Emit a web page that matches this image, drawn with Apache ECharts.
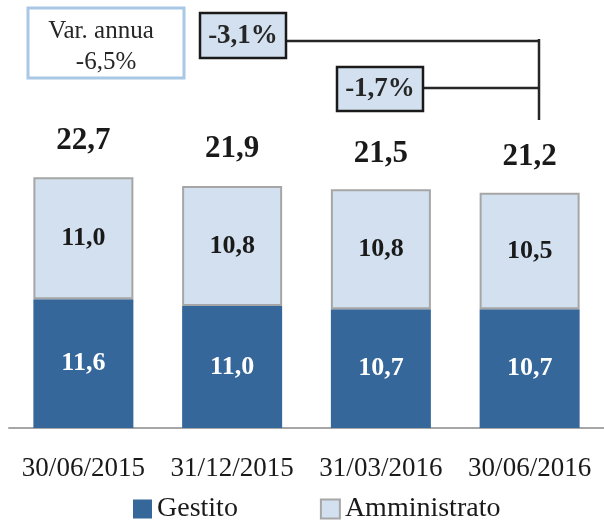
<!DOCTYPE html>
<html><head><meta charset="utf-8">
<script src="https://cdn.jsdelivr.net/npm/echarts@6/dist/echarts.min.js"></script>
<style>html,body{margin:0;padding:0;background:#fff}#c{width:604px;height:522px}</style>
</head><body><div id="c"></div>
<script>
const categories = ['30/06/2015','31/12/2015','31/03/2016','30/06/2016'];
const gestito = [11.6, 11.0, 10.7, 10.7];
const amministrato = [11.0, 10.8, 10.8, 10.5];
const totals = [22.7, 21.9, 21.5, 21.2];
const seriesNames = ['Gestito','Amministrato'];
const varAnnuaText = ['Var. annua','-6,5%'];
const changes = ['-3,1%','-1,7%'];

const FONT = 'Liberation Serif';
const fmtNum = p => Number(p.value).toFixed(1).replace('.', ',');

const chart = echarts.init(document.getElementById('c'));
chart.setOption({
  animation:false,
  backgroundColor:'#fff',
  grid:{left:9,right:0,top:150.5,bottom:94},
  xAxis:{type:'category',data:categories,
    axisLine:{lineStyle:{color:'#A6A6A6',width:2}},
    axisTick:{show:false},
    axisLabel:{interval:0,color:'#1a1a1a',fontFamily:FONT,fontSize:27,margin:27}},
  yAxis:{type:'value',min:0,max:25,show:false,splitLine:{show:false}},
  legend:{data:seriesNames,bottom:-6,left:128,icon:'rect',itemWidth:19,itemHeight:19,itemGap:82,
    textStyle:{fontFamily:FONT,fontSize:28,color:'#1a1a1a'}},
  series:[
    {name:seriesNames[0],type:'bar',stack:'t',data:gestito,barWidth:100,
      itemStyle:{color:'#35679A'},
      label:{show:true,position:'inside',formatter:fmtNum,color:'#fff',fontFamily:FONT,fontWeight:'bold',fontSize:26}},
    {name:seriesNames[1],type:'bar',stack:'t',data:amministrato,barWidth:100,
      itemStyle:{color:'#D2E0EF',borderColor:'#A6A6A6',borderWidth:2},
      label:{show:true,position:'inside',formatter:fmtNum,color:'#1a1a1a',fontFamily:FONT,fontWeight:'bold',fontSize:26}},
    {name:'Totale',type:'bar',data:totals,barWidth:100,barGap:'-100%',silent:true,
      itemStyle:{color:'rgba(0,0,0,0)'},
      label:{show:true,position:'top',distance:20,formatter:fmtNum,color:'#1a1a1a',fontFamily:FONT,fontWeight:'bold',fontSize:31}}
  ],
  graphic:[
    {type:'rect',shape:{x:28,y:8,width:156,height:70},style:{fill:'#fff',stroke:'#A9C8E6',lineWidth:3}},
    {type:'text',x:101,y:31,style:{text:varAnnuaText[0],font:'25px "Liberation Serif"',fill:'#262626',textAlign:'center',textVerticalAlign:'middle'}},
    {type:'text',x:106,y:62,style:{text:varAnnuaText[1],font:'25px "Liberation Serif"',fill:'#262626',textAlign:'center',textVerticalAlign:'middle'}},
    {type:'line',shape:{x1:286,y1:41,x2:540,y2:41},style:{stroke:'#262626',lineWidth:2.5}},
    {type:'line',shape:{x1:539,y1:39,x2:539,y2:120},style:{stroke:'#262626',lineWidth:2.5}},
    {type:'line',shape:{x1:424,y1:88,x2:539,y2:88},style:{stroke:'#262626',lineWidth:2.5}},
    {type:'rect',shape:{x:200,y:13,width:86,height:45},style:{fill:'#D2E0EF',stroke:'#1a1a1a',lineWidth:2.5}},
    {type:'text',x:243,y:36,style:{text:changes[0],font:'bold 27px "Liberation Serif"',fill:'#262626',textAlign:'center',textVerticalAlign:'middle'}},
    {type:'rect',shape:{x:337,y:67,width:86,height:44},style:{fill:'#D2E0EF',stroke:'#1a1a1a',lineWidth:2.5}},
    {type:'text',x:380,y:89,style:{text:changes[1],font:'bold 27px "Liberation Serif"',fill:'#262626',textAlign:'center',textVerticalAlign:'middle'}}
  ]
});
</script></body></html>
